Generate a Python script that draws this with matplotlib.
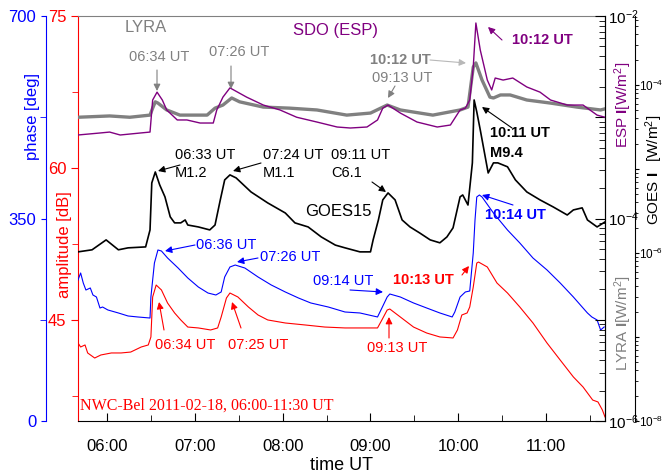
import numpy as np
import matplotlib
matplotlib.use('Agg')
import matplotlib.pyplot as plt
from matplotlib.ticker import FixedLocator, NullFormatter, LogLocator, FuncFormatter

plt.rcParams['font.family'] = ['Liberation Sans', 'DejaVu Sans']
plt.rcParams['mathtext.fontset'] = 'custom'
plt.rcParams['mathtext.rm'] = 'Liberation Sans'
plt.rcParams['mathtext.it'] = 'Liberation Sans:italic'
plt.rcParams['mathtext.bf'] = 'Liberation Sans:bold'

# ---------------- data (time in decimal hours UT) ----------------
goes_t = [5.67, 5.83, 5.99, 6.13, 6.24, 6.44, 6.49, 6.51, 6.55, 6.60, 6.66, 6.72, 6.77,
          6.84, 6.89, 6.92, 7.04, 7.17, 7.23, 7.29, 7.34, 7.40, 7.47, 7.64, 7.83, 8.03,
          8.14, 8.29, 8.44, 8.60, 8.71, 8.88, 9.00, 9.03, 9.09, 9.14, 9.20, 9.28, 9.36,
          9.45, 9.56, 9.68, 9.79, 9.87, 9.94, 10.02, 10.05, 10.11, 10.16, 10.18, 10.21,
          10.25, 10.34, 10.40, 10.45, 10.56, 10.65, 10.78, 10.93, 11.08, 11.24, 11.31,
          11.41, 11.47, 11.58, 11.67]
goes_flux = [1.03e-6, 1.09e-6, 1.43e-6, 1.09e-6, 1.15e-6, 1.18e-6, 1.88e-6, 6.81e-6,
             9.2e-6, 6.46e-6, 4.65e-6, 2.69e-6, 2.28e-6, 2.28e-6, 2.47e-6, 2.15e-6,
             2.04e-6, 1.88e-6, 2.15e-6, 4.28e-6, 7.40e-6, 8.49e-6, 7.82e-6, 5.32e-6,
             3.94e-6, 2.99e-6, 2.28e-6, 2.04e-6, 1.55e-6, 1.24e-6, 1.15e-6, 1.03e-6,
             1.03e-6, 1.43e-6, 2.47e-6, 4.28e-6, 5.18e-6, 4.28e-6, 2.47e-6, 2.04e-6,
             1.73e-6, 1.43e-6, 1.32e-6, 1.55e-6, 1.99e-6, 4.65e-6, 4.90e-6, 3.72e-6,
             1.18e-5, 6.62e-5, 4.78e-5, 2.91e-5, 8.95e-6, 1.18e-5, 1.18e-5, 1.06e-5,
             7.40e-6, 5.32e-6, 4.28e-6, 3.53e-6, 2.83e-6, 3.25e-6, 3.44e-6, 2.47e-6,
             2.04e-6, 2.34e-6]

lyra_t = [5.67, 6.03, 6.26, 6.49, 6.52, 6.55, 6.58, 6.68, 6.83, 7.03, 7.14, 7.23, 7.32,
          7.42, 7.51, 7.78, 8.08, 8.39, 8.73, 9.00, 9.19, 9.34, 9.71, 10.02, 10.11,
          10.17, 10.20, 10.27, 10.36, 10.40, 10.48, 10.59, 10.78, 11.05, 11.35, 11.62,
          11.70]
lyra_flux = [1.00e-3, 1.03e-3, 1.00e-3, 1.05e-3, 1.23e-3, 1.42e-3, 1.38e-3, 1.18e-3,
             1.05e-3, 1.05e-3, 1.05e-3, 1.23e-3, 1.32e-3, 1.55e-3, 1.42e-3, 1.26e-3,
             1.23e-3, 1.18e-3, 1.05e-3, 1.10e-3, 1.32e-3, 1.18e-3, 1.05e-3, 1.18e-3,
             1.26e-3, 3.13e-3, 3.44e-3, 2.33e-3, 1.58e-3, 1.55e-3, 1.66e-3, 1.66e-3,
             1.48e-3, 1.38e-3, 1.26e-3, 1.18e-3, 1.23e-3]

esp_t = [5.67, 5.92, 6.03, 6.15, 6.38, 6.49, 6.52, 6.57, 6.63, 6.68, 6.80, 6.91, 7.06,
         7.21, 7.25, 7.32, 7.40, 7.59, 7.78, 7.97, 8.16, 8.39, 8.62, 8.77, 8.96, 9.08,
         9.14, 9.20, 9.34, 9.53, 9.76, 9.91, 10.02, 10.08, 10.13, 10.17, 10.20, 10.25,
         10.33, 10.38, 10.42, 10.51, 10.62, 10.78, 10.93, 11.05, 11.24, 11.42, 11.58,
         11.67]
esp_flux = [6.68e-4, 6.99e-4, 7.14e-4, 6.68e-4, 6.99e-4, 7.14e-4, 1.48e-3, 1.77e-3,
            1.48e-3, 1.18e-3, 9.40e-4, 9.40e-4, 8.77e-4, 8.77e-4, 1.18e-3, 1.58e-3,
            1.95e-3, 1.58e-3, 1.32e-3, 1.18e-3, 1.00e-3, 8.97e-4, 8.01e-4, 7.83e-4,
            8.01e-4, 9.40e-4, 1.23e-3, 1.32e-3, 1.10e-3, 8.97e-4, 8.01e-4, 8.38e-4,
            1.18e-3, 1.23e-3, 1.48e-3, 3.13e-3, 8.53e-3, 4.61e-3, 2.33e-3, 1.86e-3,
            2.44e-3, 2.33e-3, 2.44e-3, 1.99e-3, 1.77e-3, 1.48e-3, 1.32e-3, 1.32e-3,
            1.05e-3, 1.00e-3]

amp_t = [5.67, 5.70, 5.75, 5.78, 5.86, 5.93, 6.05, 6.16, 6.27, 6.39, 6.47, 6.50, 6.52,
         6.56, 6.62, 6.69, 6.77, 6.84, 6.92, 7.04, 7.18, 7.26, 7.30, 7.36, 7.40, 7.49,
         7.61, 7.72, 7.83, 8.03, 8.26, 8.48, 8.71, 8.88, 9.08, 9.13, 9.19, 9.22, 9.34,
         9.49, 9.64, 9.79, 9.94, 9.99, 10.04, 10.10, 10.13, 10.17, 10.21, 10.23, 10.33,
         10.44, 10.56, 10.70, 10.85, 11.01, 11.16, 11.31, 11.42, 11.53, 11.59, 11.64,
         11.67]
amp_db = [42.70, 42.31, 42.51, 41.72, 41.22, 41.52, 41.72, 41.72, 41.81, 42.31, 42.51,
          43.30, 47.25, 48.43, 47.94, 46.65, 45.67, 44.98, 44.28, 44.19, 43.99, 44.19,
          45.27, 47.15, 47.64, 47.25, 46.26, 45.47, 44.98, 44.68, 44.48, 44.28, 44.19,
          44.19, 44.19, 44.98, 45.96, 46.06, 45.27, 44.28, 43.69, 43.30, 43.20, 43.99,
          45.47, 45.67, 46.26, 48.23, 50.60, 50.70, 50.21, 48.63, 47.64, 46.26, 44.68,
          42.70, 41.02, 39.35, 38.36, 37.07, 36.88, 36.09, 35.40]

pha_t = [5.67, 5.70, 5.73, 5.76, 5.81, 5.84, 5.88, 5.92, 5.95, 6.01, 6.13, 6.24, 6.35,
         6.49, 6.50, 6.54, 6.58, 6.62, 6.69, 6.81, 6.92, 7.04, 7.15, 7.24, 7.30, 7.34,
         7.40, 7.46, 7.57, 7.72, 7.87, 8.03, 8.18, 8.32, 8.52, 8.71, 8.88, 9.08, 9.13,
         9.19, 9.22, 9.34, 9.49, 9.64, 9.79, 9.93, 9.96, 10.02, 10.08, 10.13, 10.17,
         10.19, 10.21, 10.24, 10.27, 10.40, 10.56, 10.70, 10.85, 11.01, 11.16, 11.31,
         11.41, 11.47, 11.52, 11.58, 11.62, 11.66]
pha_deg = [243.7, 255.8, 238.5, 226.4, 229.9, 217.8, 214.3, 195.3, 197.0, 191.9, 186.7,
           181.5, 179.8, 178.0, 214.3, 273.1, 295.6, 293.8, 281.7, 264.4, 247.2, 231.6,
           221.2, 217.8, 223.0, 248.9, 266.2, 269.6, 264.4, 248.9, 235.1, 223.0, 212.6,
           204.0, 197.0, 188.4, 186.7, 179.8, 195.3, 214.3, 219.5, 214.3, 204.0, 195.3,
           186.7, 179.8, 188.4, 214.3, 223.0, 224.7, 290.4, 347.4, 387.2, 390.6, 387.2,
           359.5, 330.1, 307.7, 281.7, 261.0, 238.5, 214.3, 197.0, 186.7, 179.8, 174.6,
           157.3, 162.5]

hours = [6, 7, 8, 9, 10, 11]
hour_labels = ['06:00', '07:00', '08:00', '09:00', '10:00', '11:00']

# ---------------- figure / axes ----------------
W, H = 664, 474
fig = plt.figure(figsize=(W / 100, H / 100), dpi=100)
L, R, T, B = 78, 605, 16, 421
ax = fig.add_axes([L / W, 1 - B / H, (R - L) / W, (B - T) / H])
ax.patch.set_alpha(0)

def log_label(v, pos):
    e = int(round(np.log10(v)))
    return r'$10^{%d}$' % e if e % 2 == 0 else ''

# amplitude (red, main axis)
ax.plot(amp_t, amp_db, color='red', lw=0.8)
ax.set_xlim(5.67, 11.67)
ax.set_ylim(35, 75)
ax.set_yticks([45, 60, 75])
ax.set_yticks([37.5, 52.5, 67.5], minor=True)
ax.set_xticks(hours)
ax.set_xticklabels(hour_labels)
ax.set_xticks(np.arange(6.5, 11.6, 1.0), minor=True)
ax.tick_params(axis='x', direction='in', length=6, labelsize=12, pad=13)
ax.tick_params(axis='x', which='minor', direction='in', length=4)
ax.tick_params(axis='y', which='both', direction='out', colors='red', labelsize=12)
ax.tick_params(axis='y', which='major', length=5)
ax.tick_params(axis='y', which='minor', length=4)
ax.spines['left'].set_color('red')
ax.spines['top'].set_color('gray')
ax.set_xlabel('time UT', fontsize=13, labelpad=2)

# phase (blue, outer left)
axb = ax.twinx()
axb.plot(pha_t, pha_deg, color='blue', lw=0.8)
axb.set_ylim(0, 700)
axb.spines['left'].set_visible(True)
axb.spines['left'].set_position(('axes', -32 / (R - L)))
axb.spines['left'].set_color('blue')
for s in ['right', 'top', 'bottom']:
    axb.spines[s].set_visible(False)
axb.yaxis.set_ticks_position('left')
axb.set_yticks([0, 350, 700])
axb.set_yticks([175, 525], minor=True)
axb.tick_params(axis='y', which='both', direction='out', colors='blue', labelsize=12)
axb.tick_params(axis='y', which='minor', length=4)

# LYRA / ESP (inner right log axis)
axr = ax.twinx()
axr.plot(lyra_t, lyra_flux, color='gray', lw=2.4)
axr.plot(esp_t, esp_flux, color='purple', lw=1.0)
axr.set_yscale('log')
axr.set_ylim(1e-6, 1e-2)
axr.yaxis.set_major_locator(FixedLocator([1e-6, 1e-5, 1e-4, 1e-3, 1e-2]))
axr.yaxis.set_major_formatter(FuncFormatter(log_label))
axr.yaxis.set_minor_locator(LogLocator(base=10, subs=np.arange(2, 10)))
axr.yaxis.set_minor_formatter(NullFormatter())
axr.tick_params(axis='y', which='major', direction='in', length=7, labelsize=11, pad=2)
axr.tick_params(axis='y', which='minor', direction='in', length=4)
for s in ['left', 'top', 'bottom']:
    axr.spines[s].set_visible(False)

# GOES (outer right log axis)
axg = ax.twinx()
axg.plot(goes_t, goes_flux, color='black', lw=1.2)
axg.set_yscale('log')
axg.set_ylim(1e-8, 10 ** -3.18)
axg.spines['right'].set_position(('axes', (635 - L) / (R - L)))
for s in ['left', 'top', 'bottom']:
    axg.spines[s].set_visible(False)
axg.yaxis.set_major_locator(FixedLocator([1e-8, 1e-7, 1e-6, 1e-5, 1e-4]))
axg.yaxis.set_major_formatter(FuncFormatter(log_label))
axg.yaxis.set_minor_locator(LogLocator(base=10, subs=np.arange(2, 10)))
axg.yaxis.set_minor_formatter(NullFormatter())
axg.tick_params(axis='y', which='major', direction='out', length=3, labelsize=8.5, pad=0)
axg.tick_params(axis='y', which='minor', direction='out', length=2)

# ---------------- labels and annotations (figure pixels) ----------------
def txt(x, y, s, c, size=10.5, ha='left', **kw):
    fig.text(x / W, 1 - y / H, s, color=c, fontsize=size, ha=ha, va='center', **kw)

def arr(x1, y1, x2, y2, c):
    axg.annotate('', xy=(x2, H - y2), xytext=(x1, H - y1),
                 xycoords='figure pixels', textcoords='figure pixels',
                 annotation_clip=False,
                 arrowprops=dict(arrowstyle='-|>', color=c, lw=0.8,
                                 mutation_scale=10, shrinkA=0, shrinkB=0))

txt(33, 117, 'phase [deg]', 'blue', 12, ha='center', rotation=90)
txt(65, 245, 'amplitude [dB]', 'red', 12, ha='center', rotation=90)
txt(623, 105, r'ESP $\mathbf{I}$[W/m$^2$]', 'purple', 11, ha='center', rotation=90)
txt(623, 323, r'LYRA $\mathbf{I}$[W/m$^2$]', 'gray', 11, ha='center', rotation=90)
txt(654, 170, r'GOES $\mathbf{I}_{\ \ }$ [W/m$^2$]', 'black', 11, ha='center', rotation=90)

txt(146, 28, 'LYRA', 'gray', 12, ha='center')
txt(293, 31, 'SDO (ESP)', 'purple', 12)
txt(159, 57, '06:34 UT', 'gray', ha='center')
txt(239, 52, '07:26 UT', 'gray', ha='center')
txt(370, 60, '10:12 UT', 'gray', weight='bold')
txt(372, 78, '09:13 UT', 'gray')
txt(512, 40, '10:12 UT', 'purple', weight='bold')
arr(157, 70, 157, 91, 'gray')
arr(231, 66, 231, 89, 'gray')
arr(430, 60, 466, 63, '#b8b8b8')
arr(395, 86, 388, 98, 'gray')
arr(502, 40, 488, 27, 'purple')

txt(490, 133, '10:11 UT', 'black', weight='bold')
txt(490, 153, 'M9.4', 'black', weight='bold')
txt(175, 155, '06:33 UT', 'black')
txt(175, 173, 'M1.2', 'black')
txt(263, 155, '07:24 UT', 'black')
txt(263, 173, 'M1.1', 'black')
txt(331, 155, '09:11 UT', 'black')
txt(331, 173, 'C6.1', 'black')
txt(305, 212, 'GOES15', 'black', 12)
arr(512, 128, 482, 107, 'black')
arr(180, 165, 158, 171, 'black')
arr(261, 163, 233, 171, 'black')
arr(372, 182, 386, 192, 'black')

txt(196, 245, '06:36 UT', 'blue')
txt(260, 257, '07:26 UT', 'blue')
txt(313, 281, '09:14 UT', 'blue')
txt(485, 215, '10:14 UT', 'blue', weight='bold')
arr(195, 245, 165, 251, 'blue')
arr(258, 258, 237, 262, 'blue')
arr(350, 290, 383, 292, 'blue')
arr(513, 205, 482, 195, 'blue')

txt(393, 280, '10:13 UT', 'red', weight='bold')
txt(155, 345, '06:34 UT', 'red')
txt(228, 345, '07:25 UT', 'red')
txt(367, 348, '09:13 UT', 'red')
arr(462, 275, 469, 266, 'red')
arr(164, 330, 159, 302, 'red')
arr(241, 328, 232, 302, 'red')
arr(389, 338, 389, 317, 'red')

fig.text(80 / W, 1 - 406 / H, 'NWC-Bel 2011-02-18, 06:00-11:30 UT', color='red',
         fontsize=11.5, family='Liberation Serif', va='center')

fig.savefig('out.png', dpi=100)
